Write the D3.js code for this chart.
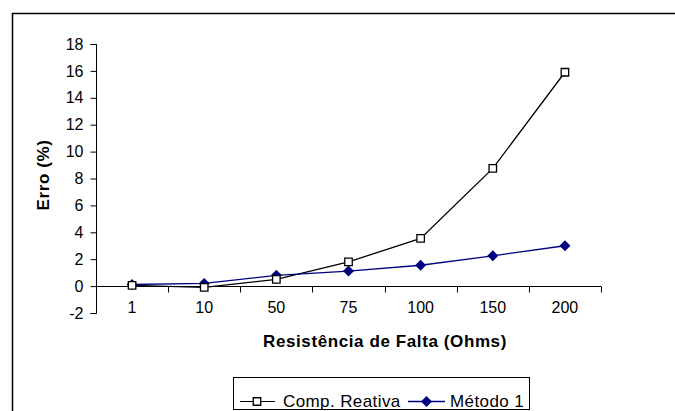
<!DOCTYPE html>
<html><head><meta charset="utf-8">
<script src="https://cdn.jsdelivr.net/npm/d3@7/dist/d3.min.js"></script>
<style>body{margin:0;background:#fff}svg{display:block}text{font-family:"Liberation Sans",Arial,sans-serif}</style>
</head><body>
<script>
const categories = ["1","10","50","75","100","150","200"];
const compReativa = [0.05, -0.1, 0.5, 1.8, 3.55, 8.75, 15.9];
const metodo1 = [0.12, 0.2, 0.8, 1.12, 1.55, 2.25, 3.0];
const yTicks = [-2,0,2,4,6,8,10,12,14,16,18];
const seriesNames = ["Comp. Reativa","Método 1"];

const W=675,H=411;
const svg=d3.select("body").append("svg").attr("width",W).attr("height",H);
svg.append("rect").attr("width",W).attr("height",H).attr("fill","#fff");
svg.append("path").attr("d",`M12.5,${H} V13.5 H${W}`).attr("fill","none").attr("stroke","#000").attr("stroke-width",1.5);

const x=d3.scaleBand().domain(categories).range([96,601]);
const y=d3.scaleLinear().domain([-2,18]).range([313,44]);

const yAx=svg.append("g").attr("transform","translate(96.5,0)")
 .call(d3.axisLeft(y).tickValues(yTicks).tickSize(6).tickPadding(7).tickFormat(d=>String(d)));
yAx.select(".domain").attr("d",`M-6,${y(18)+0.5}H0V${y(-2)+0.5}H-6`).attr("stroke","#000");
yAx.selectAll("text").attr("font-size",16).attr("fill","#000").attr("font-family","Liberation Sans, Arial, sans-serif");
yAx.selectAll(".tick line").attr("stroke","#000");

const xAx=svg.append("g").attr("transform",`translate(0,${Math.round(y(0))+0.5})`);
xAx.append("line").attr("x1",96).attr("x2",601).attr("stroke","#000");
const bounds=categories.map(c=>x(c)).concat([x.range()[1]]);
xAx.selectAll(".tk").data(bounds).join("line").attr("x1",d=>Math.round(d)+0.5).attr("x2",d=>Math.round(d)+0.5).attr("y1",0).attr("y2",6).attr("stroke","#000");
svg.selectAll(".xl").data(categories).join("text").attr("x",d=>x(d)+x.bandwidth()/2).attr("y",313)
 .attr("text-anchor","middle").attr("font-size",16).text(d=>d);

svg.append("text").attr("x",385).attr("y",347).attr("text-anchor","middle").attr("font-size",17).attr("font-weight","bold").attr("letter-spacing",0.6).text("Resistência de Falta (Ohms)");
svg.append("text").attr("transform","translate(49,175) rotate(-90)").attr("text-anchor","middle").attr("font-size",17).attr("font-weight","bold").attr("letter-spacing",0.6).text("Erro (%)");

const cx=d=>x(d)+x.bandwidth()/2;
const line=d3.line().x((d,i)=>cx(categories[i])).y(d=>y(d));
svg.append("path").datum(compReativa).attr("d",line).attr("fill","none").attr("stroke","#000").attr("stroke-width",1.3);
svg.append("path").datum(metodo1).attr("d",line).attr("fill","none").attr("stroke","#000080").attr("stroke-width",1.3);
const sq=d3.symbol().type(d3.symbolSquare).size(56);
const dmPath="M0,-5.5L5.5,0L0,5.5L-5.5,0Z";
svg.selectAll(".m1").data(metodo1).join("path").attr("d",dmPath).attr("transform",(d,i)=>`translate(${cx(categories[i])},${y(d)})`).attr("fill","#000080");
svg.selectAll(".m0").data(compReativa).join("path").attr("d",sq).attr("transform",(d,i)=>`translate(${cx(categories[i])},${y(d)})`).attr("fill","#fff").attr("stroke","#000").attr("stroke-width",1.3);

const lg=svg.append("g");
lg.append("rect").attr("x",233.5).attr("y",377.5).attr("width",296).attr("height",32).attr("fill","#fff").attr("stroke","#000");
lg.append("line").attr("x1",240).attr("x2",275).attr("y1",401.5).attr("y2",401.5).attr("stroke","#000");
lg.append("path").attr("d",sq).attr("transform","translate(257,401.5)").attr("fill","#fff").attr("stroke","#000").attr("stroke-width",1.3);
lg.append("text").attr("x",283).attr("y",407).attr("font-size",17).attr("letter-spacing",0.4).text(seriesNames[0]);
lg.append("line").attr("x1",408).attr("x2",445).attr("y1",401.5).attr("y2",401.5).attr("stroke","#000080").attr("stroke-width",1.3);
lg.append("path").attr("d",dmPath).attr("transform","translate(426.5,401.5)").attr("fill","#000080");
lg.append("text").attr("x",450).attr("y",407).attr("font-size",17).attr("letter-spacing",0.4).text(seriesNames[1]);
</script>
</body></html>
